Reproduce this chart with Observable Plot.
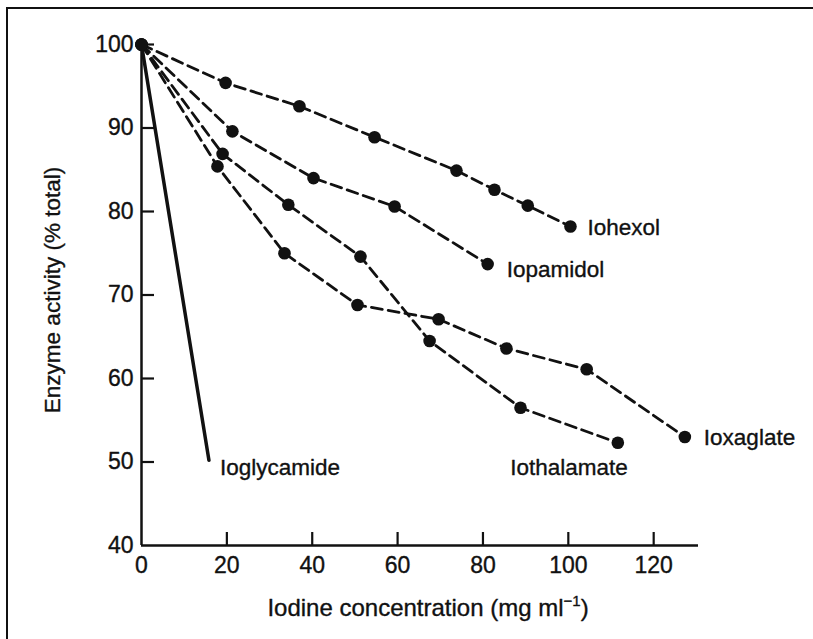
<!DOCTYPE html>
<html><head><meta charset="utf-8">
<script src="https://cdn.jsdelivr.net/npm/d3@7"></script>
<script src="https://cdn.jsdelivr.net/npm/@observablehq/plot@0.6"></script>
<style>
html,body{margin:0;padding:0;background:#fff;overflow:hidden;}
#wrap{position:relative;width:813px;height:639px;overflow:hidden;background:#fff;}
#chart svg{display:block;}
.fh{position:absolute;left:6px;top:7px;width:807px;height:2px;background:#111;}
.fv{position:absolute;left:6px;top:7px;width:2px;height:632px;background:#111;}
</style></head><body><div id="wrap"><div id="chart"></div><div class="fh"></div><div class="fv"></div></div>
<script>
const xTicks = [0, 20, 40, 60, 80, 100, 120];
const yTicks = [40, 50, 60, 70, 80, 90, 100];

const iohexolX = [0, 19.7, 37, 54.6, 73.8, 82.7, 90.5, 100.5];
const iohexolY = [100, 95.4, 92.6, 88.9, 84.9, 82.6, 80.7, 78.2];
const iopamidolX = [0, 21.3, 40.3, 59.3, 81.1];
const iopamidolY = [100, 89.6, 84.0, 80.6, 73.7];
const iothalamateX = [0, 19, 34.4, 51.3, 67.5, 88.8, 111.6];
const iothalamateY = [100, 86.9, 80.8, 74.6, 64.5, 56.5, 52.3];
const ioxaglateX = [0, 17.8, 33.5, 50.6, 69.6, 85.5, 104.3, 127.3];
const ioxaglateY = [100, 85.4, 75.0, 68.8, 67.1, 63.6, 61.1, 53.0];
const ioglycamideX = [0, 15.8];
const ioglycamideY = [100, 50.2];

const seriesNames = ["Iohexol", "Iopamidol", "Iothalamate", "Ioxaglate", "Ioglycamide"];
const seriesXs = [iohexolX, iopamidolX, iothalamateX, ioxaglateX, ioglycamideX];
const seriesYs = [iohexolY, iopamidolY, iothalamateY, ioxaglateY, ioglycamideY];
const seriesDashed = [true, true, true, true, false];
const seriesMarkers = [true, true, true, true, false];

const xTitle = "Iodine concentration (mg ml-1)";
const yTitle = "Enzyme activity (% total)";

// label placement (style)
const labelDx = [17, 19, 10, 19, 11];
const labelDy = [1, 6, 25, 1, 7];
const labelAnchor = ["start", "start", "end", "start", "start"];

const rows = seriesNames.flatMap((name, i) => seriesXs[i].map((x, j) => ({name, x, y: seriesYs[i][j], dashed: seriesDashed[i], marker: seriesMarkers[i]})));

const font = "'Liberation Sans', Arial, Helvetica, sans-serif";
const ink = "#111";
const W = 813, H = 639, mL = 141, mR = 115, mT = 44, mB = 94;
const plotW = W - mL - mR, plotH = H - mT - mB;
const tickLen = 13;
const txt = {fill: ink, stroke: ink, strokeWidth: 0.35, lineAnchor: "middle"};

const marks = [
  // axis lines
  Plot.ruleX([0], {stroke: ink, strokeWidth: 2.5}),
  Plot.ruleY([40], {stroke: ink, strokeWidth: 2.5}),
  // inward ticks
  Plot.ruleX(xTicks.filter(d => d !== 0), {x: d => d, stroke: ink, strokeWidth: 2.2, insetTop: plotH - tickLen}),
  Plot.ruleY(yTicks.filter(d => d !== 40), {y: d => d, stroke: ink, strokeWidth: 2.2, insetRight: plotW - tickLen}),
  // tick labels
  Plot.text(xTicks, {...txt, x: d => d, y: 40, text: d => String(d), dy: 20, fontSize: 23, textAnchor: "middle"}),
  Plot.text(yTicks, {...txt, x: 0, y: d => d, text: d => String(d), dx: -8, fontSize: 23, textAnchor: "end"}),
  // axis titles
  Plot.text([xTitle], {...txt, frameAnchor: "bottom", dx: 8, dy: 63, fontSize: 24, textAnchor: "middle"}),
  Plot.text([yTitle], {...txt, frameAnchor: "left", dx: -89, dy: -5, rotate: -90, fontSize: 22.5, textAnchor: "middle"}),
  // series lines
  Plot.line(rows.filter(d => d.dashed), {x: "x", y: "y", z: "name", stroke: ink, strokeWidth: 2.8, strokeDasharray: "11,6"}),
  Plot.line(rows.filter(d => !d.dashed), {x: "x", y: "y", z: "name", stroke: ink, strokeWidth: 3.5}),
  Plot.dot(rows.filter(d => d.marker), {x: "x", y: "y", r: 6.3, fill: ink, stroke: "none"}),
  // series labels
  ...seriesNames.map((name, i) => {
    const last = seriesXs[i].length - 1;
    return Plot.text([{x: seriesXs[i][last], y: seriesYs[i][last], name}], {...txt, x: "x", y: "y", text: "name", dx: labelDx[i], dy: labelDy[i], textAnchor: labelAnchor[i], fontSize: 22.5});
  })
];

const chart = Plot.plot({
  width: W, height: H,
  marginLeft: mL, marginRight: mR, marginTop: mT, marginBottom: mB,
  x: {domain: [0, 130.5], axis: null},
  y: {domain: [40, 100], axis: null},
  style: {fontFamily: font, fontSize: "22px", background: "#fff", color: ink, overflow: "visible"},
  marks
});
document.getElementById("chart").appendChild(chart);

// superscript for the x-axis title
d3.select(chart).selectAll("text").each(function() {
  if (this.textContent === xTitle) {
    this.textContent = "";
    const t = d3.select(this);
    t.append("tspan").text("Iodine concentration (mg ml");
    t.append("tspan").attr("dy", "-10").attr("font-size", "15").text("\u22121");
    t.append("tspan").attr("dy", "10").text(")");
  }
});
</script></body></html>
